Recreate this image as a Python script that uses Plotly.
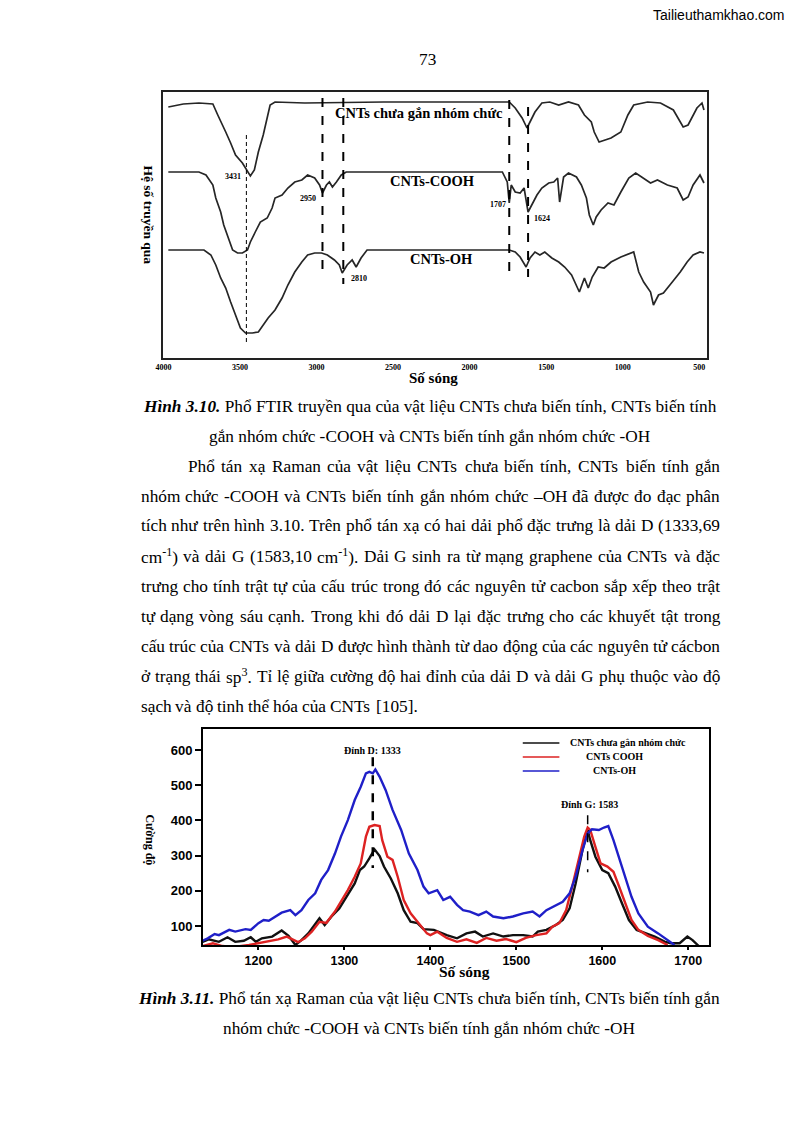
import re
import unicodedata
import plotly.graph_objects as go

W, H = 794, 1123

# ---------------- FTIR data (wavenumber, transmittance a.u. with offsets) ----------------
ftir_labels = ["CNTs chưa gắn nhóm chức", "CNTs-COOH", "CNTs-OH"]
top_wn = [3968, 3870, 3768, 3677, 3645, 3613, 3593, 3561, 3529, 3484, 3451, 3432, 3406, 3380, 3348, 3322,
          3303, 3271, 3077, 2561, 2238, 1786, 1741, 1702, 1657, 1625, 1605, 1573, 1528, 1476, 1418, 1354,
          1289, 1250, 1205, 1186, 1154, 1121, 1076, 1012, 966, 928, 837, 753, 669, 605, 573, 515, 482, 469]
top_t = [251, 254, 255, 254, 243, 233, 226, 215, 203, 195, 186, 182, 188, 206, 223, 240,
         253, 256, 255, 256, 256, 256, 256, 250, 240, 230, 236, 246, 255, 256, 253, 256,
         253, 243, 236, 226, 216, 218, 220, 226, 243, 253, 256, 255, 248, 231, 233, 250, 255, 248]
mid_wn = [3968, 3768, 3722, 3677, 3658, 3626, 3606, 3574, 3548, 3516, 3484, 3451, 3432, 3400, 3367,
          3322, 3290, 3271, 3225, 3187, 3142, 3096, 3058, 3012, 2980, 2961, 2935, 2916, 2896, 2870,
          2838, 2806, 2238, 1786, 1754, 1741, 1728, 1702, 1670, 1644, 1618, 1592, 1560, 1528, 1483,
          1450, 1425, 1412, 1386, 1354, 1302, 1270, 1237, 1218, 1192, 1173, 1141, 1096, 1057, 1012,
          960, 915, 863, 818, 773, 708, 644, 605, 573, 540, 495, 469]
mid_t = [186, 186, 183, 173, 160, 146, 133, 120, 108, 105, 105, 108, 116, 126, 136,
         140, 150, 160, 163, 170, 176, 178, 183, 180, 173, 165, 173, 176, 171, 176,
         183, 186, 186, 186, 176, 155, 173, 166, 165, 170, 146, 153, 163, 170, 175,
         176, 180, 156, 181, 185, 181, 173, 160, 143, 133, 141, 148, 155, 153, 166,
         180, 185, 180, 175, 178, 173, 170, 158, 161, 173, 183, 175]
bot_wn = [3968, 3735, 3690, 3658, 3626, 3593, 3561, 3529, 3497, 3464, 3419, 3380, 3348, 3316, 3271,
          3225, 3187, 3142, 3096, 3058, 3012, 2967, 2929, 2883, 2851, 2832, 2800, 2767, 2741, 2709,
          2670, 2238, 1741, 1702, 1670, 1631, 1605, 1573, 1541, 1509, 1463, 1418, 1379, 1334, 1302,
          1283, 1250, 1225, 1199, 1160, 1121, 1076, 1012, 947, 928, 895, 863, 818, 799, 766,
          734, 676, 624, 579, 540, 495, 469]
bot_t = [108, 108, 103, 93, 80, 70, 56, 43, 30, 25, 25, 26, 33, 40, 48,
         60, 73, 86, 96, 103, 105, 105, 103, 98, 93, 85, 93, 98, 91, 100,
         108, 108, 108, 106, 101, 91, 100, 106, 103, 106, 100, 96, 91, 83, 73,
         66, 80, 70, 81, 91, 90, 96, 101, 105, 106, 86, 76, 66, 53, 63,
         65, 76, 86, 96, 103, 106, 105]
ftir_ticks = [4000, 3500, 3000, 2500, 2000, 1500, 1000, 500]
ftir_peak_text = ["3431", "2950", "2810", "1707", "1624"]
ftir_peak_text_wn = [3548, 3058, 2722, 1812, 1528]
ftir_peak_text_t = [182, 160, 80, 154, 140]
# dashed marker lines: wavenumber, top, bottom (a.u.), width
ftir_line_wn = [3458, 2961, 2825, 1741, 1618]
ftir_line_top = [223, 260, 260, 258, 251]
ftir_line_bot = [16, 82, 74, 80, 81]
ftir_line_w = [1, 2, 2, 2, 2]

# ---------------- Raman data ----------------
raman_names = ["CNTs chưa gắn nhóm chức", "CNTs COOH", "CNTs-OH"]
black_x = [1135, 1142, 1154, 1164, 1173, 1183, 1191, 1197, 1204, 1216, 1227, 1235, 1243, 1250, 1258,
           1268, 1271, 1277, 1285, 1294, 1304, 1312, 1318, 1323, 1329, 1335, 1341, 1346, 1354, 1362,
           1369, 1377, 1385, 1392, 1404, 1419, 1431, 1442, 1452, 1461, 1473, 1485, 1496, 1508, 1519,
           1525, 1535, 1546, 1554, 1562, 1569, 1577, 1583, 1586, 1592, 1600, 1607, 1615, 1623, 1631,
           1640, 1650, 1661, 1673, 1680, 1690, 1699, 1705, 1713]
black_y = [55, 62, 55, 68, 55, 58, 68, 55, 65, 70, 87, 72, 46, 60, 79,
           112, 122, 103, 127, 150, 188, 221, 259, 269, 292, 318, 299, 269, 235, 193,
           145, 112, 108, 91, 89, 74, 65, 79, 84, 70, 79, 70, 74, 74, 70,
           84, 89, 103, 117, 150, 221, 316, 373, 344, 297, 259, 250, 212, 164, 117,
           89, 79, 70, 55, 51, 51, 70, 60, 41]
red_x = [1135, 1147, 1158, 1173, 1189, 1200, 1212, 1223, 1233, 1241, 1246, 1254, 1262, 1271, 1279,
         1289, 1296, 1304, 1312, 1319, 1325, 1329, 1335, 1341, 1344, 1350, 1356, 1362, 1369, 1377,
         1385, 1392, 1396, 1400, 1408, 1419, 1431, 1442, 1454, 1465, 1477, 1488, 1500, 1511, 1523,
         1535, 1542, 1550, 1558, 1565, 1573, 1579, 1583, 1586, 1592, 1598, 1606, 1613, 1619, 1627,
         1634, 1642, 1653, 1665, 1676]
red_y = [43, 51, 43, 41, 46, 51, 58, 62, 70, 60, 54, 65, 84, 112, 109,
         141, 169, 202, 240, 278, 354, 382, 387, 384, 344, 297, 288, 240, 174, 136,
         112, 93, 79, 74, 84, 66, 55, 62, 52, 66, 58, 63, 54, 66, 74,
         79, 98, 108, 145, 212, 297, 354, 380, 373, 325, 278, 269, 254, 216, 164,
         117, 89, 72, 60, 46]
blue_x = [1135, 1141, 1149, 1154, 1166, 1173, 1185, 1191, 1200, 1206, 1212, 1220, 1227, 1237, 1243,
          1250, 1258, 1266, 1273, 1281, 1289, 1296, 1304, 1312, 1319, 1325, 1329, 1333, 1336, 1341,
          1348, 1356, 1366, 1375, 1385, 1392, 1398, 1408, 1415, 1423, 1431, 1438, 1446, 1456, 1465,
          1473, 1485, 1496, 1508, 1519, 1527, 1535, 1546, 1554, 1562, 1569, 1577, 1583, 1588, 1596,
          1602, 1607, 1613, 1619, 1627, 1634, 1642, 1653, 1665, 1676, 1684]
blue_y = [58, 65, 77, 74, 89, 84, 91, 89, 108, 117, 115, 127, 138, 145, 131,
          145, 174, 193, 231, 259, 306, 354, 401, 458, 496, 534, 538, 534, 545, 524,
          486, 430, 373, 306, 259, 212, 193, 202, 174, 183, 160, 145, 141, 131, 141,
          127, 122, 127, 136, 141, 127, 145, 160, 169, 193, 240, 316, 363, 375, 373,
          380, 384, 344, 297, 240, 183, 136, 98, 79, 60, 46]
raman_xticks = [1200, 1300, 1400, 1500, 1600, 1700]
raman_yticks = [100, 200, 300, 400, 500, 600]
raman_peaks = [1333, 1583]
raman_peak_text = ["Đỉnh D: 1333", "Đỉnh G: 1583"]

# ---------------- page text ----------------
page_number = "73"
site_text = "Tailieuthamkhao.com"
cap310 = ["<b><i>Hình 3.10.</i></b> Phổ FTIR truyền qua của vật liệu CNTs chưa biến tính, CNTs biến tính",
          "gắn nhóm chức -COOH và CNTs biến tính gắn nhóm chức -OH"]
para = ["Phổ tán xạ Raman của vật liệu CNTs chưa biến tính, CNTs biến tính gắn",
        "nhóm chức -COOH và CNTs biến tính gắn nhóm chức –OH đã được đo đạc phân",
        "tích như trên hình 3.10. Trên phổ tán xạ có hai dải phổ đặc trưng là dải D (1333,69",
        "cm<sup>-1</sup>) và dải G (1583,10 cm<sup>-1</sup>). Dải G sinh ra từ mạng graphene của CNTs và đặc",
        "trưng cho tính trật tự của cấu trúc trong đó các nguyên tử cacbon sắp xếp theo trật",
        "tự dạng vòng sáu cạnh. Trong khi đó dải D lại đặc trưng cho các khuyết tật trong",
        "cấu trúc của CNTs và dải D được hình thành từ dao động của các nguyên tử cácbon",
        "ở trạng thái sp<sup>3</sup>. Tỉ lệ giữa cường độ hai đỉnh của dải D và dải G phụ thuộc vào độ",
        "sạch và độ tinh thể hóa của CNTs [105]."]
cap311 = ["<b><i>Hình 3.11.</i></b> Phổ tán xạ Raman của vật liệu CNTs chưa biến tính, CNTs biến tính gắn",
          "nhóm chức -COOH và CNTs biến tính gắn nhóm chức -OH"]

SERIF = "Liberation Serif"
SANS = "Liberation Sans"
BODY = 17.3


def xp(px):
    return px / W


def yp(py):
    return 1 - py / H


# Times/Liberation Serif advance widths (per 1000 em)
TW = {' ': 250, 'a': 444, 'b': 500, 'c': 444, 'd': 500, 'e': 444, 'f': 333, 'g': 500, 'h': 500, 'i': 278,
      'j': 278, 'k': 500, 'l': 278, 'm': 778, 'n': 500, 'o': 500, 'p': 500, 'q': 500, 'r': 333, 's': 389,
      't': 278, 'u': 500, 'v': 500, 'w': 722, 'x': 500, 'y': 500, 'z': 444,
      'A': 722, 'B': 667, 'C': 667, 'D': 722, 'E': 611, 'F': 556, 'G': 722, 'H': 722, 'I': 333, 'J': 389,
      'K': 722, 'L': 611, 'M': 889, 'N': 722, 'O': 722, 'P': 556, 'Q': 722, 'R': 667, 'S': 556, 'T': 611,
      'U': 722, 'V': 722, 'W': 944, 'X': 722, 'Y': 722, 'Z': 611,
      '.': 250, ',': 250, '(': 333, ')': 333, '-': 333, '–': 500, '[': 333, ']': 333, ':': 278,
      'đ': 500, 'Đ': 722}


def cw(c):
    if c in TW:
        return TW[c]
    if c.isdigit():
        return 500
    base = unicodedata.normalize('NFD', c)[0]
    w = TW.get(base, 500)
    if '\u031b' in unicodedata.normalize('NFD', c):
        w += 30
    return w


def text_w(s, size):
    tot = 0
    for p in re.split(r'(<sup>.*?</sup>)', s):
        if p.startswith('<sup>'):
            tot += sum(cw(c) for c in p[5:-6]) * 0.7
        else:
            tot += sum(cw(c) for c in p)
    return tot * size / 1000


def A(x, y, text, size, family=SERIF, xref="paper", yref="paper", xanchor="center",
      yanchor="middle", bold=False, angle=0):
    f = dict(family=family, size=size, color="black")
    if bold:
        f["weight"] = "bold"
    return dict(x=x, y=y, xref=xref, yref=yref, text=text, showarrow=False, xanchor=xanchor,
                yanchor=yanchor, textangle=angle, borderpad=0, font=f)


fig = go.Figure()

# FTIR traces
for wn, t, nm in zip([top_wn, mid_wn, bot_wn], [top_t, mid_t, bot_t], ftir_labels):
    fig.add_trace(go.Scatter(x=wn, y=t, mode="lines", name=nm, xaxis="x", yaxis="y",
                             line=dict(color="#262626", width=1.7), showlegend=False))

# Raman traces
for xs, ys, col, nm in zip([black_x, red_x, blue_x], [black_y, red_y, blue_y],
                           ["#111111", "#dd2222", "#1f1fc8"], raman_names):
    fig.add_trace(go.Scatter(x=xs, y=ys, mode="lines", name=nm, xaxis="x2", yaxis="y2",
                             line=dict(color=col, width=2.4), showlegend=False))

shapes = []
ann = []

# FTIR dashed marker lines
for wn, t0, t1, lw in zip(ftir_line_wn, ftir_line_top, ftir_line_bot, ftir_line_w):
    shapes.append(dict(type="line", xref="x", yref="y", x0=wn, x1=wn, y0=t0, y1=t1,
                       line=dict(color="black", width=lw, dash="dash" if lw > 1 else "4px,3px")))
for txt, wn, t in zip(ftir_peak_text, ftir_peak_text_wn, ftir_peak_text_t):
    ann.append(A(wn, t, txt, 8, xref="x", yref="y", bold=True))
# FTIR series labels
for txt, wn, t in zip(ftir_labels, [2328, 2244, 2186], [245, 177, 99]):
    ann.append(A(wn, t, txt, 14.5, xref="x", yref="y", bold=True))

# FTIR axis titles
ann.append(A(xp(430), yp(378), "Số sóng", 15, bold=True))
ann.append(A(xp(141), yp(215), "Hệ số truyền qua", 13.5, bold=True, angle=90))

# Raman peak lines and labels
for xv, y0, y1, lw in zip(raman_peaks, [580, 415], [265, 253], [2.5, 1.5]):
    shapes.append(dict(type="line", xref="x2", yref="y2", x0=xv, x1=xv, y0=y0, y1=y1,
                       line=dict(color="black", width=lw, dash="dash")))
for txt, xv, yv in zip(raman_peak_text, [1333, 1585], [600, 444]):
    ann.append(A(xv, yv, txt, 10, xref="x2", yref="y2", bold=True))

# Raman legend
for nm, col, ly, cx in zip(raman_names, ["#111111", "#dd2222", "#1f1fc8"], [743, 757, 771], [626, 613, 613]):
    shapes.append(dict(type="line", xref="paper", yref="paper", x0=xp(520), x1=xp(557), y0=yp(ly), y1=yp(ly),
                       line=dict(color=col, width=1.6)))
    ann.append(A(xp(cx), yp(ly), nm, 10, bold=True))

# Raman axis titles
ann.append(A(xp(461), yp(971), "Số sóng", 15.5, bold=True))
ann.append(A(xp(143), yp(840), "Cường độ", 12, bold=True, angle=90))

# page header
ann.append(A(xp(424), yp(60), page_number, BODY))
ann.append(A(xp(786), yp(15), site_text, 14, family=SANS, xanchor="right"))

# captions
for txt, cy in zip(cap310, [406, 436]):
    ann.append(A(xp(426), yp(cy), txt, BODY))
for txt, cy in zip(cap311, [998, 1028]):
    ann.append(A(xp(425), yp(cy), txt, BODY))

# justified paragraph (word by word)
LEFT, RIGHT, INDENT = 133, 718, 181
for i, line in enumerate(para):
    cy = 466 + 30 * i
    words = line.split(" ")
    ws = [text_w(w, BODY) for w in words]
    x0 = INDENT if i == 0 else LEFT
    if i == len(para) - 1 or len(words) < 2:
        gap = TW[' '] * BODY / 1000
    else:
        gap = (RIGHT - x0 - sum(ws)) / (len(words) - 1)
    x = x0
    for w, wd in zip(words, ws):
        ann.append(A(xp(x), yp(cy), w, BODY, xanchor="left"))
        x += wd + gap

fig.update_layout(
    width=W, height=H, margin=dict(l=0, r=0, t=0, b=0),
    paper_bgcolor="white", plot_bgcolor="white", showlegend=False,
    xaxis=dict(domain=[xp(157), xp(706)], range=[4000, 450], anchor="y",
               showline=True, linecolor="#222", linewidth=2, mirror=True,
               tickvals=ftir_ticks, ticks="", showgrid=False, zeroline=False,
               tickfont=dict(family=SERIF, size=8, color="black", weight="bold")),
    yaxis=dict(domain=[yp(358), yp(92)], range=[0, 266], anchor="x",
               showline=True, linecolor="#222", linewidth=2, mirror=True,
               showticklabels=False, ticks="", showgrid=False, zeroline=False),
    xaxis2=dict(domain=[xp(197), xp(708)], range=[1135.5, 1724], anchor="y2",
                showline=True, linecolor="black", linewidth=2, mirror=True,
                tickvals=raman_xticks, ticks="outside", ticklen=3, tickwidth=2, tickcolor="black",
                showgrid=False, zeroline=False,
                tickfont=dict(family=SANS, size=12.5, color="black", weight="bold")),
    yaxis2=dict(domain=[yp(945), yp(729)], range=[46, 660], anchor="x2",
                showline=True, linecolor="black", linewidth=2, mirror=True,
                tickvals=raman_yticks, ticks="outside", ticklen=6, tickwidth=2, tickcolor="black",
                showgrid=False, zeroline=False,
                tickfont=dict(family=SANS, size=13, color="black", weight="bold")),
    shapes=shapes, annotations=ann,
)

fig.write_html("out.html", config={"displayModeBar": False},
               post_script="document.body.style.margin='0px';document.body.style.overflow='hidden';")
